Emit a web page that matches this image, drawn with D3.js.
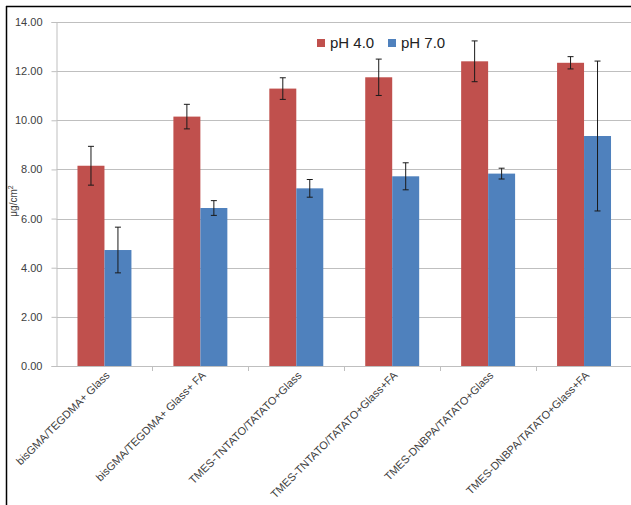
<!DOCTYPE html>
<html>
<head>
<meta charset="utf-8">
<script src="https://cdn.jsdelivr.net/npm/d3@7"></script>
<style>
  html, body { margin: 0; padding: 0; background: #fff; }
  svg { display: block; font-family: "Liberation Sans", Arial, sans-serif; }
</style>
</head>
<body>
<svg id="chart" width="631" height="505"></svg>
<script>
const categories = [
  "bisGMA/TEGDMA+ Glass",
  "bisGMA/TEGDMA+ Glass+ FA",
  "TMES-TNTATO/TATATO+Glass",
  "TMES-TNTATO/TATATO+Glass+FA",
  "TMES-DNBPA/TATATO+Glass",
  "TMES-DNBPA/TATATO+Glass+FA"
];
const seriesNames = ["pH 4.0", "pH 7.0"];
const ph4Values = [8.15, 10.15, 11.29, 11.75, 12.40, 12.34];
const ph4Errors = [0.79, 0.50, 0.44, 0.74, 0.83, 0.25];
const ph7Values = [4.72, 6.43, 7.23, 7.72, 7.83, 9.36];
const ph7Errors = [0.93, 0.30, 0.36, 0.55, 0.22, 3.05];
const yTicks = [0, 2, 4, 6, 8, 10, 12, 14];
const colors = ["#C0504D", "#4F81BD"];

(function () {
const svg = d3.select("#chart");

// frame lines (top and left)
svg.append("line").attr("x1", 6).attr("x2", 631).attr("y1", 6.5).attr("y2", 6.5)
  .attr("stroke", "#000").attr("stroke-width", 1.5);
svg.append("line").attr("x1", 6.5).attr("x2", 6.5).attr("y1", 6).attr("y2", 505)
  .attr("stroke", "#000").attr("stroke-width", 1.5);

const mLeft = 56.5, mRight = 632, mTop = 22, mBottom = 366;

const y = d3.scaleLinear().domain([0, 14]).range([mBottom, mTop]);
const x0 = d3.scaleBand().domain(categories).range([mLeft, mRight])
  .paddingInner(0.4375).paddingOuter(0.21875);
const x1 = d3.scaleBand().domain(seriesNames).range([0, x0.bandwidth()]);

// gridlines
svg.append("g").selectAll("line").data(yTicks.slice(1)).join("line")
  .attr("x1", mLeft).attr("x2", 631)
  .attr("y1", d => Math.round(y(d)) + 0.5).attr("y2", d => Math.round(y(d)) + 0.5)
  .attr("stroke", "#bfbfbf").attr("stroke-width", 1);

// y axis
const yAxis = d3.axisLeft(y).tickValues(yTicks).tickFormat(d3.format(".2f")).tickSize(5).tickPadding(9);
const gy = svg.append("g").attr("transform", `translate(${mLeft},0)`).call(yAxis);
gy.select(".domain").attr("stroke", "#bfbfbf");
gy.selectAll(".tick line").attr("stroke", "#bfbfbf");
gy.selectAll(".tick text").attr("font-size", 11).attr("fill", "#404040")
  .attr("font-family", "Liberation Sans, Arial, sans-serif");

// y axis title
svg.append("text")
  .attr("transform", `translate(17,201) rotate(-90)`)
  .attr("text-anchor", "middle")
  .attr("font-size", 10).attr("fill", "#404040")
  .html('μg/cm<tspan dy="-4" font-size="7">2</tspan>');

// bars
const data = categories.map((c, i) => ({
  cat: c,
  vals: [
    { s: seriesNames[0], v: ph4Values[i], e: ph4Errors[i], c: colors[0] },
    { s: seriesNames[1], v: ph7Values[i], e: ph7Errors[i], c: colors[1] }
  ]
}));

const groups = svg.append("g").selectAll("g").data(data).join("g")
  .attr("transform", d => `translate(${x0(d.cat)},0)`);

groups.selectAll("rect").data(d => d.vals).join("rect")
  .attr("x", d => x1(d.s)).attr("width", x1.bandwidth())
  .attr("y", d => y(d.v)).attr("height", d => y(0) - y(d.v))
  .attr("fill", d => d.c);

// error bars
const eb = groups.selectAll("g.err").data(d => d.vals).join("g").attr("class", "err");
const cx = d => x1(d.s) + x1.bandwidth() / 2;
eb.append("line")
  .attr("x1", cx).attr("x2", cx)
  .attr("y1", d => y(d.v + d.e)).attr("y2", d => y(d.v - d.e))
  .attr("stroke", "#1a1a1a").attr("stroke-width", 1);
eb.append("line")
  .attr("x1", d => cx(d) - 3).attr("x2", d => cx(d) + 3)
  .attr("y1", d => y(d.v + d.e)).attr("y2", d => y(d.v + d.e))
  .attr("stroke", "#1a1a1a").attr("stroke-width", 1);
eb.append("line")
  .attr("x1", d => cx(d) - 3).attr("x2", d => cx(d) + 3)
  .attr("y1", d => y(d.v - d.e)).attr("y2", d => y(d.v - d.e))
  .attr("stroke", "#1a1a1a").attr("stroke-width", 1);

// x axis line
svg.append("line").attr("x1", mLeft).attr("x2", 631)
  .attr("y1", mBottom + 0.5).attr("y2", mBottom + 0.5).attr("stroke", "#bfbfbf");
// category boundary ticks
const step = x0.step();
const boundaries = categories.map(c => x0(c) - (step - x0.bandwidth()) / 2).slice(1);
svg.append("g").selectAll("line").data(boundaries).join("line")
  .attr("x1", d => Math.round(d) + 0.5).attr("x2", d => Math.round(d) + 0.5)
  .attr("y1", mBottom).attr("y2", mBottom + 5).attr("stroke", "#bfbfbf");

// x labels
svg.append("g").selectAll("text").data(categories).join("text")
  .attr("transform", c => `translate(${x0(c) + x0.bandwidth() / 2 + 6},376) rotate(-45)`)
  .attr("text-anchor", "end")
  .attr("font-size", 11).attr("fill", "#404040")
  .text(c => c);

// legend
const legendItems = [
  { name: seriesNames[0], color: colors[0], x: 317 },
  { name: seriesNames[1], color: colors[1], x: 388 }
];
const li = svg.append("g").selectAll("g").data(legendItems).join("g")
  .attr("transform", d => `translate(${d.x},39)`);
li.append("rect").attr("width", 8).attr("height", 8).attr("fill", d => d.color);
li.append("text").attr("x", 13).attr("y", 9).attr("font-size", 15).attr("fill", "#222")
  .text(d => d.name);
})();
</script>
</body>
</html>
